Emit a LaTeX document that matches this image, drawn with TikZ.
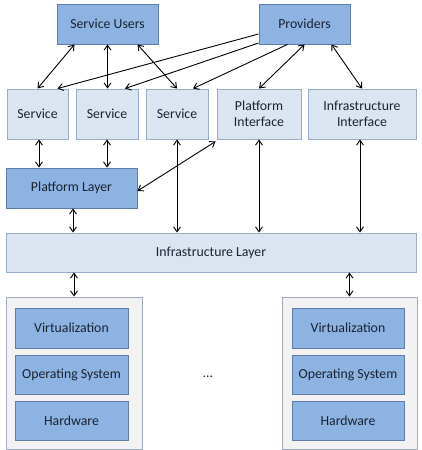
\documentclass[tikz,border=0pt]{standalone}
\usepackage{fontspec}
\setmainfont{Carlito}
\usetikzlibrary{arrows.meta,calc}
\definecolor{darkfill}{RGB}{141,179,226}
\definecolor{darkline}{RGB}{95,125,165}
\definecolor{lightfill}{RGB}{219,229,241}
\definecolor{lightline}{RGB}{150,172,200}
\definecolor{outerfill}{RGB}{242,242,242}
\definecolor{outerline}{RGB}{160,170,185}
\definecolor{textcol}{RGB}{25,35,50}
\tikzset{
  box/.style={draw, line width=0.9pt, inner sep=0pt, align=center, font=\fontsize{13.8}{16}\selectfont, text=textcol},
  darkbox/.style={box, fill=darkfill, draw=darkline},
  lightbox/.style={box, fill=lightfill, draw=lightline},
  outerbox/.style={box, fill=outerfill, draw=outerline},
  conn/.style={line width=0.9pt, {Straight Barb[length=5pt,width=7pt]}-{Straight Barb[length=5pt,width=7pt]}},
  oneway/.style={line width=0.9pt, -{Straight Barb[length=5pt,width=7pt]}},
}
\begin{document}
\begin{tikzpicture}[x=1pt,y=-1pt]
\useasboundingbox (0,0) rectangle (421,450);
% top
\node[darkbox, minimum width=101pt, minimum height=40pt] (su) at (107.5,24) {Service Users};
\node[darkbox, minimum width=91pt, minimum height=40pt] (prov) at (304.5,24) {Providers};
% second row
\node[lightbox, minimum width=61pt, minimum height=50pt] (s1) at (37.5,114) {Service};
\node[lightbox, minimum width=62pt, minimum height=50pt] (s2) at (107,114) {Service};
\node[lightbox, minimum width=62pt, minimum height=50pt] (s3) at (177,114) {Service};
\node[lightbox, minimum width=84pt, minimum height=50pt] (pi) at (259,114) {Platform\\Interface};
\node[lightbox, minimum width=108pt, minimum height=50pt] (ii) at (362,114) {Infrastructure\\Interface};
% platform layer
\node[darkbox, minimum width=131pt, minimum height=40pt] (pl) at (71.5,188) {Platform Layer};
% infrastructure layer
\node[lightbox, minimum width=410pt, minimum height=39pt] (il) at (211,252.5) {Infrastructure Layer};
% machines
\node[outerbox, minimum width=136pt, minimum height=152pt] (m1) at (74,373) {};
\node[outerbox, minimum width=135pt, minimum height=152pt] (m2) at (349.5,373) {};
\node[darkbox, minimum width=113pt, minimum height=40pt] (v1) at (71.5,328) {Virtualization};
\node[darkbox, minimum width=113pt, minimum height=39pt] (o1) at (71.5,374.5) {Operating System};
\node[darkbox, minimum width=113pt, minimum height=39pt] (h1) at (71.5,420.5) {Hardware};
\node[darkbox, minimum width=112pt, minimum height=40pt] (v2) at (348,328) {Virtualization};
\node[darkbox, minimum width=112pt, minimum height=39pt] (o2) at (348,374.5) {Operating System};
\node[darkbox, minimum width=112pt, minimum height=39pt] (h2) at (348,420.5) {Hardware};
\node[font=\fontsize{13.8}{15}\selectfont, text=textcol] (dots) at (208,377) {\dots};
% connectors top
\draw[conn] ([xshift=-33pt]su.south) -- (s1.north);
\draw[conn] (su.south) -- (su.south |- s2.north);
\draw[conn] ([xshift=30pt]su.south) -- (s3.north);
\draw[oneway] ([yshift=-10pt]prov.west) -- ([xshift=20pt]s1.north);
\draw[oneway] ([yshift=-19pt]prov.west) -- ([xshift=18pt]s2.north);
\draw[oneway] ([xshift=-17pt]prov.south) -- ([xshift=16pt]s3.north);
\draw[conn] (prov.south) -- (pi.north);
\draw[conn] ([xshift=27pt]prov.south) -- (ii.north);
% middle
\draw[conn] ([xshift=1.5pt]s1.south) -- ([xshift=1.5pt]s1.south |- pl.north);
\draw[conn] (s2.south) -- (s2.south |- pl.north);
\draw[conn] ([yshift=-3pt]pl.east) -- ([xshift=-1pt,yshift=-2pt]pi.south west);
\draw[conn] (s3.south) -- (s3.south |- il.north);
\draw[conn] (pi.south) -- (pi.south |- il.north);
\draw[conn] ([xshift=-2pt]ii.south) -- ([xshift=-2pt]ii.south |- il.north);
\draw[conn] ([xshift=1.5pt]pl.south) -- ([xshift=1.5pt]pl.south |- il.north);
% bottom
\draw[conn] (il.south -| m1.north) -- (m1.north);
\draw[conn] (il.south -| m2.north) -- (m2.north);
\end{tikzpicture}
\end{document}
